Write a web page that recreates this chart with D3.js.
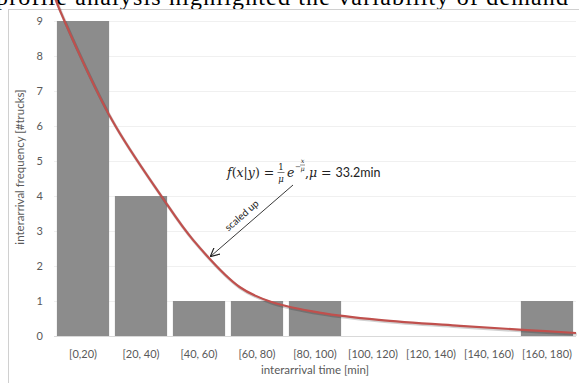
<!DOCTYPE html>
<html lang="en">
<head>
    <meta charset="UTF-8">
    <title>Interarrival histogram</title>
    <script src="https://d3js.org/d3.v7.min.js"></script>
    <style>
        body { margin: 0; background: white; }
        svg { display: block; }
        .tick-label { font-family: Lato, "Open Sans", sans-serif; font-size: 11px; fill: #595959; }
    </style>
</head>
<body>
<script>
    // Histogram data
    const categories = ["[0,20)", "[20, 40)", "[40, 60)", "[60, 80)", "[80, 100)",
                        "[100, 120)", "[120, 140)", "[140, 160)", "[160, 180)"];
    const counts = [9, 4, 1, 1, 1, 0, 0, 0, 1];
    const yTicks = [0, 1, 2, 3, 4, 5, 6, 7, 8, 9];

    // Scaled exponential curve (minutes, frequency)
    const curveMin = [0, 2, 20, 37, 48, 64, 75, 92, 112, 140, 163, 180];
    const curveVal = [9.75, 9.31, 6.17, 4.0, 2.74, 1.40, 0.97, 0.66, 0.46, 0.29, 0.17, 0.086];

    const W = 579, H = 383;
    const plot = {left: 54, right: 576, top: 21, bottom: 336};

    const svg = d3.select("body").append("svg")
        .attr("width", W)
        .attr("height", H);

    // Surrounding document text (cut off at top)
    svg.append("text")
        .attr("x", -4)
        .attr("y", 5)
        .attr("textLength", 572)
        .attr("lengthAdjust", "spacing")
        .style("font-family", "'Liberation Serif', 'Times New Roman', serif")
        .style("font-size", "24px")
        .style("fill", "#000")
        .text("profile analysis highlighted the variability of demand");

    // Chart frame
    svg.append("line").attr("x1", 8).attr("x2", W).attr("y1", 9.5).attr("y2", 9.5)
        .attr("stroke", "#d0d0d0").attr("stroke-width", 1);
    svg.append("line").attr("x1", 8.5).attr("x2", 8.5).attr("y1", 9).attr("y2", H)
        .attr("stroke", "#d0d0d0").attr("stroke-width", 1);

    // Scales
    const x = d3.scaleBand()
        .domain(categories)
        .range([plot.left, plot.right])
        .paddingInner(0.1)
        .paddingOuter(0.05);

    const xMin = d3.scaleLinear()
        .domain([0, 180])
        .range([plot.left, plot.right]);

    const y = d3.scaleLinear()
        .domain([0, 9])
        .range([plot.bottom, plot.top]);

    // Gridlines
    svg.append("g")
        .selectAll("line")
        .data(yTicks.slice(1))
        .enter()
        .append("line")
        .attr("x1", plot.left)
        .attr("x2", plot.right)
        .attr("y1", d => Math.round(y(d)) + 0.5)
        .attr("y2", d => Math.round(y(d)) + 0.5)
        .attr("stroke", "#f0f0f0");

    // Bars
    svg.selectAll(".bar")
        .data(categories.map((c, i) => ({c, v: counts[i]})).filter(d => d.v > 0))
        .enter()
        .append("rect")
        .attr("class", "bar")
        .attr("x", d => x(d.c))
        .attr("y", d => y(d.v))
        .attr("width", x.bandwidth())
        .attr("height", d => y(0) - y(d.v))
        .attr("fill", "#8c8c8c");

    // X axis line
    svg.append("line")
        .attr("x1", plot.left).attr("x2", plot.right)
        .attr("y1", y(0) + 0.5).attr("y2", y(0) + 0.5)
        .attr("stroke", "#d9d9d9");

    // Y tick labels
    svg.append("g")
        .selectAll("text")
        .data(yTicks)
        .enter()
        .append("text")
        .attr("class", "tick-label")
        .attr("x", 43)
        .attr("y", d => y(d))
        .attr("dy", "0.35em")
        .attr("text-anchor", "end")
        .text(d => d);

    // X tick labels
    svg.append("g")
        .selectAll("text")
        .data(categories)
        .enter()
        .append("text")
        .attr("class", "tick-label")
        .attr("x", d => x(d) + x.bandwidth() / 2)
        .attr("y", 354)
        .attr("dy", "0.35em")
        .attr("text-anchor", "middle")
        .text(d => d);

    // Axis titles
    svg.append("text")
        .attr("class", "tick-label")
        .attr("x", (plot.left + plot.right) / 2)
        .attr("y", 370)
        .attr("dy", "0.35em")
        .attr("text-anchor", "middle")
        .style("font-size", "11.5px")
        .text("interarrival time [min]");

    svg.append("text")
        .attr("class", "tick-label")
        .attr("transform", "translate(20,167) rotate(-90)")
        .attr("dy", "0.35em")
        .attr("text-anchor", "middle")
        .style("font-size", "11.5px")
        .text("interarrival frequency [#trucks]");

    // Fitted curve
    const pts = curveMin.map((m, i) => [m, curveVal[i]]);
    const line = d3.line()
        .x(d => xMin(d[0]))
        .y(d => y(d[1]))
        .curve(d3.curveCatmullRom.alpha(0.5));

    svg.append("path")
        .attr("d", line(pts))
        .attr("fill", "none")
        .attr("stroke", "rgba(0,0,0,0.18)")
        .attr("stroke-width", 3)
        .attr("transform", "translate(0.8,1.2)");

    svg.append("path")
        .attr("d", line(pts))
        .attr("fill", "none")
        .attr("stroke", "#c0504d")
        .attr("stroke-width", 2.2);

    // Formula annotation
    const math = "'DejaVu Serif', 'Liberation Serif', serif";
    const f = svg.append("g").style("fill", "#222");

    const t1 = f.append("text")
        .attr("x", 227).attr("y", 177)
        .style("font-family", math).style("font-size", "12.5px");
    t1.append("tspan").style("font-style", "italic").text("f");
    t1.append("tspan").text("(");
    t1.append("tspan").style("font-style", "italic").text("x");
    t1.append("tspan").text("|");
    t1.append("tspan").style("font-style", "italic").text("y");
    t1.append("tspan").text(") =");

    // 1/mu
    f.append("text").attr("x", 281).attr("y", 170).attr("text-anchor", "middle")
        .style("font-family", math).style("font-size", "8.5px").text("1");
    f.append("line").attr("x1", 277.5).attr("x2", 284.5).attr("y1", 172.5).attr("y2", 172.5)
        .attr("stroke", "#222").attr("stroke-width", 0.6);
    f.append("text").attr("x", 281).attr("y", 182).attr("text-anchor", "middle")
        .style("font-family", math).style("font-style", "italic").style("font-size", "8.5px").text("μ");

    f.append("text").attr("x", 287).attr("y", 177)
        .style("font-family", math).style("font-style", "italic").style("font-size", "12.5px").text("e");

    // exponent -x/mu
    f.append("text").attr("x", 295).attr("y", 169)
        .style("font-family", math).style("font-size", "7px").text("−");
    f.append("text").attr("x", 302.5).attr("y", 163).attr("text-anchor", "middle")
        .style("font-family", math).style("font-style", "italic").style("font-size", "6.5px").text("x");
    f.append("line").attr("x1", 300).attr("x2", 305).attr("y1", 165).attr("y2", 165)
        .attr("stroke", "#222").attr("stroke-width", 0.5);
    f.append("text").attr("x", 302.5).attr("y", 171).attr("text-anchor", "middle")
        .style("font-family", math).style("font-style", "italic").style("font-size", "6.5px").text("μ");

    const t2 = f.append("text")
        .attr("x", 305).attr("y", 177)
        .style("font-family", math).style("font-size", "12.5px");
    t2.append("tspan").text(",");
    t2.append("tspan").style("font-style", "italic").text("μ");
    t2.append("tspan").text(" = ");
    t2.append("tspan").style("font-family", "Lato, 'Open Sans', sans-serif").text("33.2min");

    // Arrow
    svg.append("defs").append("marker")
        .attr("id", "arr")
        .attr("viewBox", "0 0 10 10")
        .attr("refX", 9).attr("refY", 5)
        .attr("markerWidth", 9).attr("markerHeight", 9)
        .attr("markerUnits", "userSpaceOnUse")
        .attr("orient", "auto")
        .append("path")
        .attr("d", "M0,0 L10,5 L0,10")
        .attr("fill", "none")
        .attr("stroke", "#222")
        .attr("stroke-width", 1.3);

    svg.append("line")
        .attr("x1", 293).attr("y1", 185)
        .attr("x2", 211).attr("y2", 256)
        .attr("stroke", "#222")
        .attr("stroke-width", 0.9)
        .attr("marker-end", "url(#arr)");

    svg.append("text")
        .attr("transform", "translate(244,218) rotate(-41)")
        .attr("text-anchor", "middle")
        .style("font-family", "Lato, 'Open Sans', sans-serif")
        .style("font-size", "10px")
        .style("fill", "#222")
        .text("scaled up");
</script>
</body>
</html>
